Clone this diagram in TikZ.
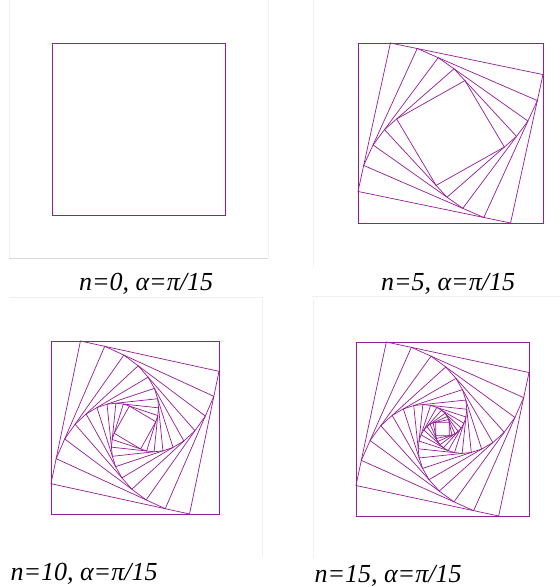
\documentclass[tikz,border=0pt]{standalone}
\usepackage{fontspec}
\setmainfont{Liberation Serif}
\usetikzlibrary{calc}
\definecolor{sqcol}{RGB}{148,28,150}
\definecolor{framecol}{RGB}{215,215,215}
\definecolor{faintcol}{RGB}{240,240,236}
\tikzset{
  sq/.style={draw=sqcol, line width=0.7pt, line join=miter},
  outersq/.style={draw=sqcol, line width=1pt, line join=miter},
  lbl/.style={font=\fontsize{26}{28}\selectfont\itshape, inner sep=0pt},
}
\newcommand{\spiralsq}[5]{% x1 y1 x2 y2 n
  \coordinate (p0) at (#1,#2);
  \coordinate (p1) at (#3,#2);
  \coordinate (p2) at (#3,#4);
  \coordinate (p3) at (#1,#4);
  \draw[outersq] (p0) -- (p1) -- (p2) -- (p3) -- cycle;
  \ifnum#5>0
  \foreach \k in {1,...,#5}{
    \coordinate (q0) at ($(p0)!0.1753!(p1)$);
    \coordinate (q1) at ($(p1)!0.1753!(p2)$);
    \coordinate (q2) at ($(p2)!0.1753!(p3)$);
    \coordinate (q3) at ($(p3)!0.1753!(p0)$);
    \draw[sq] (q0) -- (q1) -- (q2) -- (q3) -- cycle;
    \coordinate (p0) at (q0);
    \coordinate (p1) at (q1);
    \coordinate (p2) at (q2);
    \coordinate (p3) at (q3);
  }
  \fi
}
\begin{document}
\begin{tikzpicture}[x=1pt,y=-1pt]
\useasboundingbox (0,0) rectangle (560,587);
\fill[white] (0,0) rectangle (560,587);
% faint panel frames
\draw[framecol, line width=0.8pt] (9,258) -- (268,258);
\draw[faintcol, line width=0.8pt] (9,0) -- (9,258);
\draw[faintcol, line width=0.8pt] (268,0) -- (268,258);
\draw[faintcol, line width=0.8pt] (313,0) -- (313,267);
\draw[faintcol, line width=0.8pt] (9,297) -- (262,297) -- (262,557);
\draw[faintcol, line width=0.8pt] (313,300) -- (313,558);
\draw[faintcol, line width=0.8pt] (312,296) -- (560,296);
% panels
\spiralsq{52}{43}{225}{215}{0}
\spiralsq{358}{43}{543}{223}{5}
\spiralsq{51}{341}{219}{514}{10}
\spiralsq{356}{342}{529}{516}{15}
% labels
\node[lbl] (l1) at (146,284) {n=0, α=π/15};
\node[lbl] (l2) at (448,284) {n=5, α=π/15};
\node[lbl] (l3) at (84,574) {n=10, α=π/15};
\node[lbl] (l4) at (388,576) {n=15, α=π/15};
\end{tikzpicture}
\end{document}
